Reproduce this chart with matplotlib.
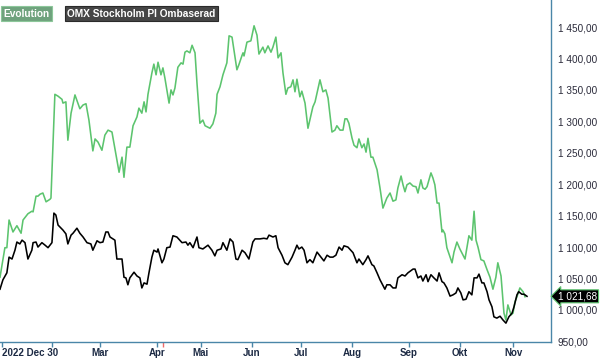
import matplotlib
matplotlib.use("Agg")
import matplotlib.pyplot as plt

plt.rcParams['font.family'] = ['Liberation Sans', 'DejaVu Sans']

# ---- data (x = trading-day index since 2022-12-30) ----
evo_day = [-0.8, 1.2, 2.0, 2.9, 4.5, 6.1, 7.8, 8.6, 10.6, 12.2, 12.7, 13.9, 14.7, 15.5, 16.7, 18.0,
           19.6, 20.0, 21.6, 22.9, 24.5, 24.9, 26.1, 26.9, 28.2, 29.8, 31.8, 33.1, 34.3, 35.5, 37.1,
           38.0, 39.2, 40.8, 42.0, 43.3, 44.9, 46.1, 46.9, 47.8, 49.0, 49.8, 51.0, 52.2, 53.5, 55.1,
           55.9, 57.1, 58.0, 58.8, 59.6, 61.2, 62.0, 62.9, 63.7, 64.9, 65.7, 66.5, 67.3, 68.2, 69.0,
           69.8, 70.6, 71.8, 73.1, 73.9, 74.7, 75.5, 76.7, 77.6, 78.8, 79.6, 80.8, 82.0, 82.9, 84.9,
           86.1, 87.3, 87.8, 89.0, 90.2, 91.8, 92.7, 93.9, 94.7, 95.9, 96.7, 98.0, 98.4, 98.8, 100.0,
           101.6, 102.9, 104.1, 104.9, 106.5, 107.3, 108.6, 109.8, 110.6, 111.8, 112.7, 113.9, 114.7,
           115.9, 116.7, 117.9, 118.8, 119.6, 120.4, 121.6, 122.4, 123.7, 124.9, 126.9, 127.8, 129.8,
           131.0, 132.2, 133.1, 134.7, 135.9, 136.7, 138.0, 139.2, 140.0, 140.8, 141.6, 142.9, 143.7,
           144.9, 145.7, 146.9, 147.8, 148.6, 149.4, 150.6, 151.4, 153.1, 154.3, 155.5, 157.1, 158.4,
           159.6, 160.8, 161.6, 162.9, 163.7, 164.5, 165.3, 166.5, 167.8, 169.0, 169.8, 171.0, 171.8,
           172.7, 173.5, 175.1, 175.9, 176.7, 177.6, 178.4, 179.6, 180.0, 180.8, 181.6, 182.9, 183.7,
           184.5, 185.7, 186.9, 188.2, 189.0, 189.8, 190.6, 191.8, 192.7, 193.5, 194.3, 195.5, 196.7,
           198.0, 199.2, 200.4, 201.6, 202.4, 203.7, 204.9, 205.7, 206.5, 207.8, 208.6, 209.4, 210.2,
           211.4, 212.7, 213.5]
evo_val = [1052, 1099, 1099, 1143, 1124, 1134, 1122, 1143, 1153, 1157, 1156, 1181, 1181, 1184, 1186, 1172,
           1176, 1178, 1343, 1340, 1335, 1329, 1331, 1270, 1313, 1342, 1320, 1326, 1328, 1302, 1253,
           1272, 1267, 1254, 1278, 1286, 1283, 1256, 1239, 1219, 1243, 1211, 1259, 1259, 1293, 1307,
           1321, 1313, 1331, 1315, 1343, 1377, 1391, 1374, 1394, 1374, 1385, 1369, 1350, 1329, 1350,
           1342, 1353, 1386, 1393, 1391, 1410, 1412, 1409, 1421, 1409, 1361, 1297, 1302, 1293, 1289,
           1296, 1313, 1343, 1355, 1374, 1393, 1436, 1434, 1413, 1382, 1390, 1405, 1409, 1404, 1426,
           1428, 1452, 1437, 1407, 1418, 1409, 1420, 1410, 1418, 1434, 1401, 1409, 1377,
           1343, 1353, 1355, 1366, 1347, 1367, 1339, 1348, 1329, 1289, 1323, 1331, 1366,
           1347, 1350, 1337, 1283, 1286, 1293, 1286, 1286, 1304, 1304, 1297, 1273, 1262,
           1258, 1272, 1258, 1264, 1251, 1273, 1243, 1243, 1223, 1194, 1162, 1178, 1186,
           1173, 1175, 1194, 1213, 1199, 1188, 1199, 1202, 1197, 1196, 1186, 1207, 1194,
           1192, 1196, 1218, 1210, 1199, 1170, 1170, 1124, 1127, 1121, 1099, 1084, 1075,
           1092, 1108, 1097, 1087, 1081, 1100, 1118, 1111, 1157, 1111, 1100, 1080, 1078,
           1064, 1052, 1033, 1052, 1075, 1054, 995, 984, 1008, 992, 995, 1013, 1021,
           1035, 1029, 1021]

omx_day = [-0.8, 0.4, 2.0, 2.9, 4.1, 5.3, 6.1, 7.3, 8.2, 9.4, 10.6, 12.2, 12.7, 13.9, 14.7, 16.3, 17.6,
           18.8, 20.4, 21.2, 22.0, 22.9, 24.9, 26.1, 26.9, 28.2, 29.0, 30.6, 31.8, 33.1, 34.7, 36.3,
           37.1, 38.8, 40.0, 41.2, 42.4, 43.3, 44.1, 46.1, 46.9, 49.0, 49.8, 50.6, 51.4, 52.2, 53.9,
           55.1, 56.3, 57.1, 58.0, 59.2, 60.0, 61.2, 62.0, 63.3, 63.7, 65.3, 66.1, 67.3, 68.6, 69.8,
           71.4, 73.5, 75.1, 75.9, 76.7, 78.0, 79.6, 80.4, 82.0, 84.1, 85.7, 86.9, 87.8, 89.4, 90.2,
           91.8, 93.1, 94.3, 95.5, 96.3, 98.0, 99.2, 100.8, 102.4, 103.3, 104.5, 105.3, 106.9, 108.2,
           109.0, 110.6, 111.8, 112.7, 114.3, 115.5, 116.7, 118.4, 119.6, 120.4, 121.2, 122.4, 123.3,
           124.5, 125.7, 126.9, 128.6, 130.2, 131.4, 132.7, 133.9, 135.1, 136.3, 137.6, 138.8, 139.6,
           141.2, 143.3, 144.9, 145.7, 147.3, 148.6, 149.4, 151.0, 151.8, 153.1, 154.3, 156.3, 157.1,
           158.4, 159.6, 160.8, 161.6, 163.3, 164.5, 165.7, 167.8, 168.6, 169.8, 171.0, 171.8, 173.1,
           173.9, 175.1, 176.3, 177.6, 178.4, 179.6, 180.4, 181.6, 182.9, 184.1, 185.3, 186.1, 187.3,
           188.2, 189.4, 190.6, 191.8, 192.7, 193.9, 194.7, 195.9, 196.7, 198.0, 198.8, 200.0, 200.8,
           202.0, 203.3, 204.5, 205.7, 206.9, 208.2, 209.0, 210.2, 210.9, 212.2, 213.1, 214.3]
omx_val = [1033, 1048, 1059, 1084, 1081, 1095, 1108, 1105, 1111, 1107, 1081, 1095, 1107, 1108, 1100, 1107, 1103,
           1099, 1107, 1154, 1151, 1135, 1127, 1121, 1105, 1119, 1122, 1130, 1122, 1116, 1107, 1105,
           1095, 1110, 1107, 1108, 1124, 1124, 1116, 1111, 1081, 1081, 1052, 1051, 1040, 1051, 1060,
           1054, 1051, 1035, 1043, 1041, 1059, 1084, 1095, 1092, 1097, 1075, 1081, 1099, 1100, 1118,
           1116, 1107, 1108, 1103, 1107, 1099, 1116, 1099, 1097, 1103, 1095, 1086, 1095, 1097, 1107,
           1095, 1113, 1108, 1081, 1080, 1095, 1091, 1081, 1108, 1113, 1113, 1113, 1114, 1113,
           1119, 1116, 1118, 1099, 1087, 1075, 1072, 1084, 1095, 1103, 1097, 1100, 1095,
           1075, 1080, 1075, 1092, 1084, 1078, 1087, 1084, 1084, 1087, 1100, 1095, 1102,
           1100, 1091, 1075, 1081, 1072, 1080, 1086, 1072, 1070, 1059, 1048, 1033, 1040,
           1040, 1035, 1035, 1051, 1056, 1054, 1059, 1065, 1065, 1051, 1054, 1046, 1056,
           1045, 1056, 1051, 1046, 1059, 1045, 1043, 1035, 1022, 1024, 1027, 1035, 1027,
           1016, 1017, 1029, 1024, 1051, 1051, 1057, 1043, 1043, 1029, 1016, 1005, 989,
           987, 990, 984, 979, 989, 995, 1005, 1024, 1029, 1025, 1025, 1021.68]

month_ticks = [0, 20.4, 40, 63.3, 81.2, 102, 122, 142.9, 166.1, 187, 208.6]
month_labels = ['2022 Dec 30', '', 'Mar', 'Apr', 'Mai', 'Jun', 'Jul', 'Aug', 'Sep', 'Okt', 'Nov']
marker_day = [65.7]
y_ticks = [950, 1000, 1050, 1100, 1150, 1200, 1250, 1300, 1350, 1400, 1450]
series_names = ['Evolution', 'OMX Stockholm PI Ombaserad']
last_value = 1021.68

GREEN = '#5cc46e'
AXC = '#4a86a8'

fig = plt.figure(figsize=(6.0, 3.58), dpi=100)
ax = fig.add_axes([0.0, 16 / 358, 551 / 600, 342 / 358])

ax.plot(evo_day, evo_val, color=GREEN, lw=1.15, solid_joinstyle='round')
ax.plot(omx_day, omx_val, color='black', lw=1.15, solid_joinstyle='round')

ax.set_xlim(-0.8, 224.1)
ax.set_ylim(949, 1493)

for s in ['top', 'left']:
    ax.spines[s].set_visible(False)
for s in ['right', 'bottom']:
    ax.spines[s].set_color(AXC)
    ax.spines[s].set_linewidth(1.0)

ax.yaxis.tick_right()
ax.set_yticks(y_ticks)
ax.set_yticklabels([f"{v:,.2f}".replace(',', ' ').replace('.', ',') for v in y_ticks])
ax.tick_params(axis='y', length=0, pad=5, labelsize=7.2, labelcolor='#2a2a3a')

ax.set_xticks(month_ticks)
ax.set_xticklabels(month_labels)
ax.tick_params(axis='x', length=3.5, width=1, color=AXC, pad=0.5, labelsize=7.0,
               labelcolor='#1c2a44')
for lab in ax.get_xticklabels():
    lab.set_fontweight('bold')
ax.get_xticklabels()[0].set_ha('left')
ax.set_xticks(marker_day, minor=True)
ax.tick_params(axis='x', which='minor', length=3.5, width=1, color='#f06a6a')

# legend boxes
ax.text(0.006, 0.975, series_names[0], transform=ax.transAxes, ha='left', va='top',
        color='white', fontsize=7.3, fontweight='bold',
        bbox=dict(boxstyle='square,pad=0.25', fc='#6fa27d', ec='#8cc79a', lw=0.8))
ax.text(0.122, 0.975, series_names[1], transform=ax.transAxes, ha='left', va='top',
        color='white', fontsize=7.3, fontweight='bold',
        bbox=dict(boxstyle='square,pad=0.25', fc='#464646', ec='#2a2a2a', lw=0.8))

# last value label
ax.annotate(f"{last_value:,.2f}".replace(',', ' ').replace('.', ','),
            xy=(1.0, last_value), xycoords=('axes fraction', 'data'),
            xytext=(5, 0), textcoords='offset points', ha='left', va='center',
            color='white', fontsize=7.2, annotation_clip=False,
            bbox=dict(boxstyle='larrow,pad=0.15', fc='black', ec=GREEN, lw=0.8))

fig.savefig('out.png', dpi=100)
